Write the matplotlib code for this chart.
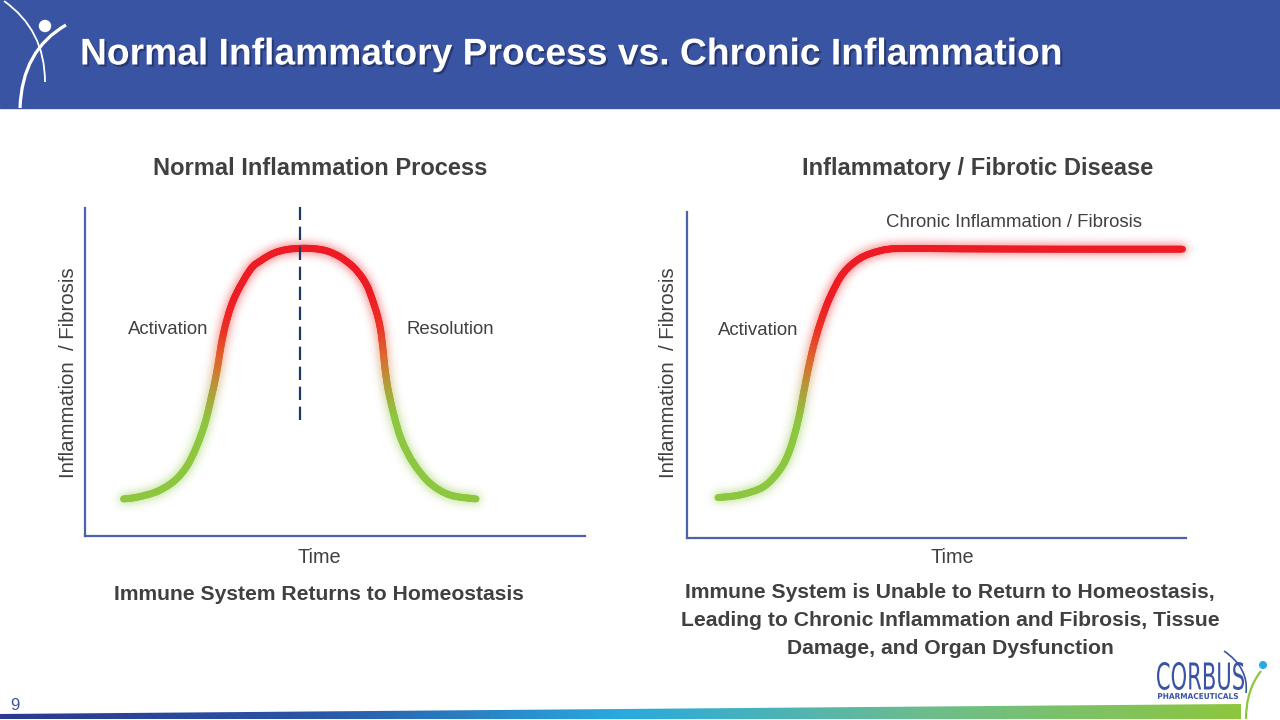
import numpy as np
import matplotlib
matplotlib.use('Agg')
import matplotlib.pyplot as plt
from matplotlib.collections import LineCollection
from matplotlib.colors import LinearSegmentedColormap
from matplotlib.patches import Rectangle, Polygon, Circle, PathPatch
from matplotlib.path import Path
from matplotlib.textpath import TextPath
from matplotlib.font_manager import FontProperties
from matplotlib.transforms import Affine2D
import matplotlib.patheffects as pe

plt.rcParams['font.family'] = ['Liberation Sans', 'DejaVu Sans']

# ---- data (time 0-100, level 0-100) ----
normal_time = [7.7, 10.3, 14.3, 17.7, 20.3, 22.3, 24.0, 25.3, 26.3, 27.7, 29.7, 33.0, 35.2, 37.7, 40.2,
               43.0, 45.8, 48.4, 51.0, 53.6, 55.6, 57.0, 59.0, 60.3, 61.7, 63.3, 65.7, 69.0, 73.0, 78.2]
normal_level = [11.3, 11.8, 13.5, 16.6, 21.1, 27.2, 34.4, 42.5, 49.6, 61.8, 72.0, 81.1, 84.0, 86.2, 87.3,
                87.7, 87.6, 86.9, 85.1, 82.1, 78.4, 74.1, 63.8, 47.6, 37.4, 29.3, 22.2, 16.1, 12.5, 11.3]
peak_time = 43.0

chronic_time = [6.2, 10.6, 15.3, 18.6, 20.6, 22.3, 23.6, 25.0, 26.7, 28.7, 31.3, 34.7, 38.7, 42.7,
                54.7, 74.7, 99.3]
chronic_level = [12.4, 13.2, 15.7, 20.9, 27.0, 36.2, 46.4, 56.7, 65.9, 74.0, 81.2, 85.8, 88.1, 88.8,
                 88.7, 88.6, 88.6]

title = 'Normal Inflammatory Process vs. Chronic Inflammation'
left_heading = 'Normal Inflammation Process'
right_heading = 'Inflammatory / Fibrotic Disease'
ylabel = 'Inflammation  / Fibrosis'
xlabel = 'Time'
left_caption = ['Immune System Returns to Homeostasis']
right_caption = ['Immune System is Unable to Return to Homeostasis,',
                 'Leading to Chronic Inflammation and Fibrosis, Tissue',
                 'Damage, and Organ Dysfunction']

blue = '#3A54A4'
axis_blue = '#4B62AC'
text_grey = '#404040'
cmap = LinearSegmentedColormap.from_list('infl', [(0, '#8DC63F'), (0.32, '#8DC63F'), (0.45, '#B39B3A'),
                                                   (0.56, '#DC6A2C'), (0.68, '#EC3326'), (0.8, '#ED1C24'),
                                                   (1, '#ED1C24')])

fig = plt.figure(figsize=(12.8, 7.2), dpi=100)

# background layer in pixel coordinates
bg = fig.add_axes([0, 0, 1, 1])
bg.set_xlim(0, 1280)
bg.set_ylim(720, 0)
bg.axis('off')

bg.add_patch(Rectangle((0, 0), 1280, 108, color=blue, zorder=1))
bg.text(80, 55, title, color='white', fontsize=26.8, fontweight='bold', ha='left', va='center', zorder=3,
        path_effects=[pe.SimplePatchShadow(offset=(1.5, -1.5), shadow_rgbFace='#1b2650', alpha=0.6), pe.Normal()])

# header figure logo
bg.add_patch(PathPatch(Path([(4, 1), (45, 30), (45, 82)], [Path.MOVETO, Path.CURVE3, Path.CURVE3]),
                       fill=False, edgecolor='white', lw=1.3, zorder=3))
bg.add_patch(PathPatch(Path([(20, 108), (22, 50), (66, 25)], [Path.MOVETO, Path.CURVE3, Path.CURVE3]),
                       fill=False, edgecolor='white', lw=2.3, zorder=3))
bg.add_patch(Circle((45, 26), 5.5, color='white', zorder=3))

# bottom gradient wedge
bar_cmap = LinearSegmentedColormap.from_list('bar', ['#2B3990', '#2A55A5', '#29A9E0', '#6DBD8C', '#8DC63F'])
grad = np.linspace(0, 1, 256).reshape(1, -1)
im = bg.imshow(grad, cmap=bar_cmap, extent=(0, 1241, 719, 703), aspect='auto', interpolation='bilinear', zorder=2)
wedge = Polygon([(0, 719), (0, 714), (1241, 704), (1241, 719)], closed=True, transform=bg.transData,
                facecolor='none', edgecolor='none')
bg.add_patch(wedge)
im.set_clip_path(wedge)
bg.set_xlim(0, 1280)
bg.set_ylim(720, 0)

bg.text(15, 706, '9', color=blue, fontsize=12, ha='center', va='center')


def text_in_box(s, x0, y_base, w, h, color, weight='normal'):
    tp = TextPath((0, 0), s, size=1, prop=FontProperties(family='DejaVu Sans', weight=weight))
    ex = tp.get_extents()
    tr = Affine2D().translate(-ex.x0, -ex.y0).scale(w / ex.width, -h / ex.height).translate(x0, y_base)
    bg.add_patch(PathPatch(tr.transform_path(tp), facecolor=color, edgecolor='none', zorder=3))


# Corbus logo
text_in_box('CORBUS', 1157, 690, 87, 28, blue)
text_in_box('PHARMACEUTICALS', 1158, 699, 80, 6, blue, weight='bold')
bg.add_patch(PathPatch(Path([(1224, 651), (1249, 668), (1246, 693)], [Path.MOVETO, Path.CURVE3, Path.CURVE3]),
                       fill=False, edgecolor=blue, lw=1.2, zorder=3))
bg.add_patch(PathPatch(Path([(1246, 719), (1246, 690), (1261, 671)], [Path.MOVETO, Path.CURVE3, Path.CURVE3]),
                       fill=False, edgecolor='#8DC63F', lw=1.6, zorder=3))
bg.add_patch(Circle((1263, 665), 3.3, color='#29ABE2', zorder=3))


def setup_axes(rect):
    ax = fig.add_axes(rect)
    ax.set_xlim(0, 100)
    ax.set_ylim(0, 100)
    for s in ['top', 'right']:
        ax.spines[s].set_visible(False)
    for s in ['left', 'bottom']:
        ax.spines[s].set_color(axis_blue)
        ax.spines[s].set_linewidth(1.6)
    ax.set_xticks([])
    ax.set_yticks([])
    ax.patch.set_alpha(0)
    return ax


def glow_filter(img, dpi):
    # soft gaussian halo around the drawn line
    pad = 18
    sigma = 4.5 * dpi / 100
    r = int(3 * sigma)
    a = np.pad(img, ((pad, pad), (pad, pad), (0, 0)))
    x = np.concatenate([a[..., :3] * a[..., 3:4], a[..., 3:4]], axis=2)
    k = np.exp(-0.5 * (np.arange(-r, r + 1) / sigma) ** 2)
    k /= k.sum()
    for axis in (0, 1):
        out = np.zeros_like(x)
        for i, w in zip(range(-r, r + 1), k):
            out += w * np.roll(x, i, axis=axis)
        x = out
    al = x[..., 3:4]
    col = x[..., :3] / np.maximum(al, 1e-6)
    return np.clip(np.concatenate([col, al * 0.55], axis=2), 0, 1), -pad, -pad


def smooth_path(t, lvl):
    # cubic bezier through the read points (catmull-rom tangents)
    p = np.column_stack([t, lvl])
    ext = np.vstack([p[0], p, p[-1]])
    verts = [p[0]]
    codes = [Path.MOVETO]
    for i in range(len(p) - 1):
        p0, p1, p2, p3 = ext[i], ext[i + 1], ext[i + 2], ext[i + 3]
        verts += [p1 + (p2 - p0) / 6, p2 - (p3 - p1) / 6, p2]
        codes += [Path.CURVE4] * 3
    return Path(verts, codes)


def draw_curve(ax, t, lvl):
    lvl = np.asarray(lvl, float)
    disp = ax.transData.transform_path(smooth_path(t, lvl))
    poly = disp.to_polygons(closed_only=False)[0]
    pts = [poly[0]]
    for a, b in zip(poly[:-1], poly[1:]):
        n = max(1, int(np.ceil(np.hypot(*(b - a)) / 2)))
        for s in np.arange(1, n + 1) / n:
            pts.append(a + s * (b - a))
    pts = ax.transData.inverted().transform(np.array(pts))
    segs = np.stack([pts[:-1], pts[1:]], axis=1)
    mid = (pts[:-1, 1] + pts[1:, 1]) / 2
    f = np.clip((mid - lvl.min()) / (lvl.max() - lvl.min()), 0, 1)
    cols = cmap(f)
    glow = LineCollection(segs, colors=cols, linewidths=7, capstyle='round', clip_on=False, zorder=2)
    glow.set_agg_filter(glow_filter)
    ax.add_collection(glow)
    ax.add_collection(LineCollection(segs, colors=cols, linewidths=5, capstyle='round', clip_on=False, zorder=3))


# left panel
ax1 = setup_axes([85 / 1280, (720 - 536) / 720, 500 / 1280, 328 / 720])
draw_curve(ax1, normal_time, normal_level)
ax1.plot([peak_time, peak_time], [35.4, 100.3], color='#1F3864', lw=1.6, linestyle=(0, (6, 3)),
         clip_on=False, zorder=4)
ax1.text(0.468, -0.067, xlabel, transform=ax1.transAxes, ha='center', va='center', fontsize=14.3, color=text_grey)
ax1.text(-0.034, 0.497, ylabel, transform=ax1.transAxes, ha='center', va='center', fontsize=14.7,
         color=text_grey, rotation=90)
ax1.text(16.6, 63.1, 'Activation', ha='center', va='center', fontsize=13.4, color=text_grey)
ax1.text(73.0, 63.1, 'Resolution', ha='center', va='center', fontsize=13.4, color=text_grey)

# right panel
ax2 = setup_axes([687 / 1280, (720 - 538) / 720, 499 / 1280, 326 / 720])
draw_curve(ax2, chronic_time, chronic_level)
ax2.text(0.531, -0.061, xlabel, transform=ax2.transAxes, ha='center', va='center', fontsize=14.3, color=text_grey)
ax2.text(-0.038, 0.506, ylabel, transform=ax2.transAxes, ha='center', va='center', fontsize=14.7,
         color=text_grey, rotation=90)
ax2.text(14.2, 63.8, 'Activation', ha='center', va='center', fontsize=13.4, color=text_grey)
ax2.text(65.5, 96.9, 'Chronic Inflammation / Fibrosis', ha='center', va='center', fontsize=13.4, color=text_grey)

# headings and captions
bg.text(320, 175, left_heading, ha='center', va='baseline', fontsize=17, fontweight='bold', color=text_grey)
bg.text(978, 175, right_heading, ha='center', va='baseline', fontsize=17, fontweight='bold', color=text_grey)
for i, line in enumerate(left_caption):
    bg.text(319, 595 + 28 * i, line, ha='center', va='center', fontsize=15.25, fontweight='bold', color=text_grey)
for i, line in enumerate(right_caption):
    bg.text(950, 593 + 28 * i, line, ha='center', va='center', fontsize=15.25, fontweight='bold', color=text_grey)

fig.savefig('out.png', dpi=100)
